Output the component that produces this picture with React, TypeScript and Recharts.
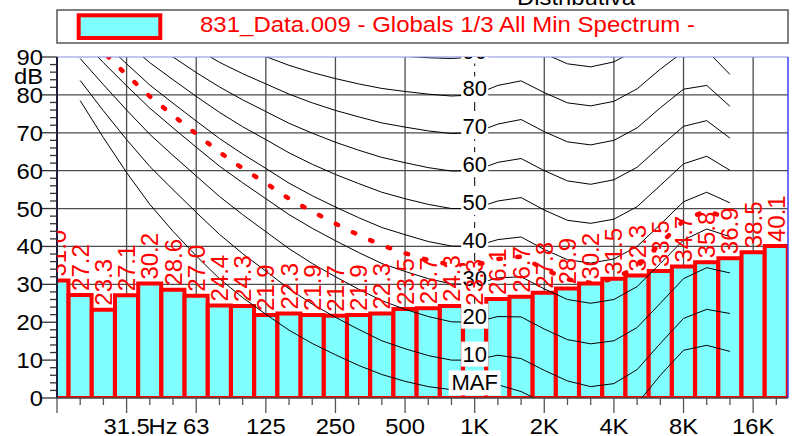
import {
  Bar,
  CartesianGrid,
  ComposedChart,
  Customized,
  LabelList,
  Legend,
  Line,
  ReferenceLine,
  XAxis,
  YAxis,
} from "recharts";

const FONT = "'Liberation Sans', Arial, Helvetica, sans-serif";
const legendLabel = "831_Data.009 - Globals 1/3 All Min Spectrum -";

// 1/3 octave bands 16 Hz .. 20 kHz (centre frequencies on the log axis)
const bandNames = [
  "16", "20", "25", "31.5", "40", "50", "63", "80", "100", "125", "160",
  "200", "250", "315", "400", "500", "630", "800", "1K", "1.25K", "1.6K",
  "2K", "2.5K", "3.15K", "4K", "5K", "6.3K", "8K", "10K", "12.5K", "16K", "20K",
];
const bandCentres = [
  15.85, 19.95, 25.12, 31.62, 39.81, 50.12, 63.1, 79.43, 100, 125.9, 158.5,
  199.5, 251.2, 316.2, 398.1, 501.2, 631, 794.3, 1000, 1259, 1585,
  1995, 2512, 3162, 3981, 5012, 6310, 7943, 10000, 12590, 15850, 19950,
];
const minSpectrum = [
  31.0, 27.2, 23.3, 27.1, 30.2, 28.6, 27.0, 24.4, 24.3, 21.9, 22.3,
  21.9, 21.7, 21.9, 22.3, 23.5, 23.7, 24.3, 23.3, 26.1, 26.7,
  27.8, 28.9, 30.2, 31.5, 32.3, 33.5, 34.7, 35.8, 36.9, 38.5, 40.1,
];
const xTickLabels = [
  "", "", "", "31.5", "", "", "63", "", "", "125", "", "", "250", "", "", "500",
  "", "", "1K", "", "", "2K", "", "", "4K", "", "", "8K", "", "", "16K", "",
];
const yTicks = [
  0, 2, 4, 6, 8, 10, 12, 14, 16, 18, 20, 22, 24, 26, 28, 30, 32, 34, 36, 38, 40,
  42, 44, 46, 48, 50, 52, 54, 56, 58, 60, 62, 64, 66, 68, 70, 72, 74, 76, 78, 80,
  82, 84, 86, 88, 90,
];
const gridLevels = [10, 20, 30, 40, 50, 60, 70, 80];
const gridFreqs = [31.62, 63.1, 125.9, 251.2, 501.2, 1995, 3981, 7943, 15850];

// equal loudness contours, 20 Hz .. 12.5 kHz
const contourFreqs = bandCentres.slice(1, 30);
const maf = [78.5, 68.7, 59.5, 51.1, 44.0, 37.5, 31.5, 26.5, 22.1, 17.9, 14.4, 11.4, 8.6, 6.2, 4.4, 3.0, 2.2, 2.4, 3.5, 1.7, -1.3, -4.2, -6.0, -5.4, -1.5, 6.0, 12.6, 13.9, 12.3];
const phon10 = [83.8, 75.8, 68.2, 61.1, 55.0, 49.0, 43.2, 38.1, 33.5, 28.8, 24.8, 21.3, 18.1, 15.1, 13.0, 11.2, 10.0, 10.0, 11.3, 10.4, 7.3, 4.5, 3.0, 3.8, 7.5, 14.4, 21.0, 23.4, 22.3];
const phon20 = [89.6, 82.7, 76.0, 69.6, 64.0, 58.6, 53.2, 48.4, 43.9, 39.4, 35.5, 32.0, 28.7, 25.7, 23.4, 21.5, 20.1, 20.0, 21.5, 21.4, 18.2, 15.4, 14.3, 15.1, 18.6, 25.0, 31.5, 34.4, 33.0];
const phon30 = [94.9, 88.5, 82.4, 76.5, 71.3, 66.2, 61.2, 56.8, 52.6, 48.4, 44.8, 41.5, 38.4, 35.5, 33.4, 31.5, 30.1, 30.0, 31.7, 32.0, 28.8, 26.0, 25.0, 26.0, 29.4, 35.5, 41.7, 44.6, 42.6];
const phon40 = [99.9, 93.9, 88.2, 82.6, 77.8, 73.1, 68.5, 64.4, 60.6, 56.7, 53.4, 50.4, 47.6, 45.0, 43.1, 41.3, 40.1, 40.0, 41.8, 42.5, 39.2, 36.5, 35.6, 36.7, 40.0, 45.8, 51.8, 54.3, 51.5];
const phon50 = [104.7, 99.2, 93.7, 88.5, 84.0, 79.6, 75.4, 71.6, 68.2, 64.7, 61.7, 59.0, 56.6, 54.3, 52.6, 51.1, 50.0, 50.0, 52.0, 52.9, 49.6, 46.9, 46.1, 47.2, 50.5, 56.1, 61.8, 63.8, 60.1];
const phon60 = [109.5, 104.2, 99.1, 94.2, 90.0, 85.9, 82.1, 78.7, 75.6, 72.5, 69.9, 67.5, 65.4, 63.5, 62.1, 60.8, 59.9, 60.0, 62.2, 63.2, 60.0, 57.3, 56.4, 57.6, 60.9, 66.4, 71.7, 73.2, 68.6];
const phon70 = [114.3, 109.3, 104.4, 99.8, 95.9, 92.2, 88.6, 85.6, 82.9, 80.2, 77.9, 75.9, 74.2, 72.6, 71.5, 70.5, 69.8, 70.0, 72.3, 73.5, 70.3, 67.6, 66.8, 68.0, 71.3, 76.6, 81.5, 82.5, 77.0];
const phon80 = [119.0, 114.2, 109.7, 105.3, 101.7, 98.4, 95.2, 92.5, 90.1, 87.8, 85.9, 84.3, 82.9, 81.7, 80.9, 80.2, 79.7, 80.0, 82.5, 83.7, 80.6, 77.9, 77.1, 78.3, 81.6, 86.8, 91.4, 91.7, 85.4];
const phon90 = [123.7, 119.2, 114.9, 110.9, 107.6, 104.5, 101.7, 99.3, 97.3, 95.4, 93.9, 92.7, 91.6, 90.8, 90.2, 89.8, 89.6, 90.0, 92.7, 94.0, 90.9, 88.2, 87.4, 88.7, 92.0, 97.0, 101.3, 101.0, 93.8];
// dotted red reference contour
const phon35 = [97.4, 91.3, 85.3, 79.6, 74.6, 69.7, 64.9, 60.6, 56.7, 52.6, 49.2, 46.0, 43.0, 40.3, 38.2, 36.4, 35.1, 35.0, 36.7, 37.3, 34.0, 31.3, 30.4, 31.4, 34.7, 40.7, 46.8, 49.5, 47.1];

const contourNames = ["MAF", "10", "20", "30", "40", "50", "60", "70", "80", "90"];
const contourValues = [maf, phon10, phon20, phon30, phon40, phon50, phon60, phon70, phon80, phon90];

const bars = bandCentres.map((f, i) => ({ f, band: bandNames[i], v: minSpectrum[i] }));
const toLine = (vals: number[]) => contourFreqs.map((f, i) => ({ f, y: vals[i] }));

function Txt({ x, y, anchor = "start", size = 22, fill = "#000", sx = 1.08, children }: any) {
  return (
    <text
      transform={`translate(${x},${y}) scale(${sx},1)`}
      textAnchor={anchor}
      fontSize={size}
      fontFamily={FONT}
      fill={fill}
    >
      {children}
    </text>
  );
}

function FreqTick({ x, y, payload }: any) {
  const i = bandCentres.indexOf(payload.value);
  const label = xTickLabels[i] || "";
  const major = i % 3 === 0;
  return (
    <g>
      <line x1={x} x2={x} y1={y} y2={y + (major ? 15 : 7)} stroke="#555" strokeWidth={1.3} />
      {label && <Txt x={x} y={y + 36} anchor="middle">{label}</Txt>}
      {label === "31.5" && <Txt x={x + 22} y={y + 36}>Hz</Txt>}
    </g>
  );
}

function LevelTick({ x, y, payload }: any) {
  const v = payload.value;
  const major = v % 10 === 0;
  return (
    <g>
      <line x1={x - (major ? 15 : 7)} x2={x} y1={y} y2={y} stroke="#333" strokeWidth={1.3} />
      {major && <Txt x={x - 14} y={y + 8} anchor="end">{v}</Txt>}
    </g>
  );
}

function BarValue({ x, y, width, value }: any) {
  const cx = x + width / 2;
  return (
    <g clipPath="url(#plot-clip)">
      <text
        transform={`translate(${cx},${y - 4}) rotate(-90)`}
        dy="0.36em"
        fontSize={24}
        fontFamily={FONT}
        fill="#ff0000"
      >
        {Number(value).toFixed(1)}
      </text>
    </g>
  );
}

const contourDot = (label: string) => (p: any) => {
  const { cx, cy, payload, index } = p;
  if (!payload || payload.f !== 1000 || cx == null || cy == null) {
    return <g key={`d-${label}-${index}`} />;
  }
  const w = label === "MAF" ? 52 : 27;
  const base = cy + 1.5;
  return (
    <g key={`d-${label}-${index}`} clipPath="url(#plot-clip)">
      <rect x={cx - w / 2} y={base - 20} width={w} height={25} fill="#fff" />
      <text x={cx} y={base} textAnchor="middle" fontSize={22} fontFamily={FONT} fill="#000">
        {label}
      </text>
    </g>
  );
};

function LegendBox(props: any) {
  const label = props.payload?.[0]?.value ?? legendLabel;
  return (
    <svg width={797} height={50} style={{ display: "block" }}>
      <rect x={57} y={10} width={731} height={33} fill="#fff" stroke="#555" strokeWidth={1.5} />
      <rect x={78.7} y={15.3} width={81.6} height={22.7} fill="#80ffff" stroke="#ff0000" strokeWidth={4} />
      <text
        x={200}
        y={32}
        fontSize={22}
        fontFamily={FONT}
        fill="#ff0000"
        textLength={495}
        lengthAdjust="spacingAndGlyphs"
      >
        {label}
      </text>
    </svg>
  );
}

function Extras() {
  return (
    <g>
      <defs>
        <clipPath id="plot-clip">
          <rect x={57} y={57} width={731} height={341} />
        </clipPath>
      </defs>
      <text
        x={576}
        y={5}
        textAnchor="middle"
        fontSize={22}
        fontFamily={FONT}
        fill="#000"
        textLength={118}
        lengthAdjust="spacingAndGlyphs"
      >
        Distributiva
      </text>
      <Txt x={43} y={84} anchor="end">dB</Txt>
    </g>
  );
}

export default function App() {
  return (
    <div style={{ position: "absolute", left: 0, top: 0, width: 797, height: 436, background: "#fff" }}>
      <ComposedChart
        width={797}
        height={436}
        data={bars}
        margin={{ top: 57, right: 9, bottom: 0, left: 0 }}
        barCategoryGap={0}
        barGap={0}
      >
        <CartesianGrid
          xAxisId="f"
          yAxisId="db"
          verticalValues={gridFreqs}
          horizontalValues={gridLevels}
          stroke="#4d4d4d"
          strokeWidth={1.3}
        />
        <CartesianGrid
          xAxisId="f"
          yAxisId="db"
          verticalValues={[1000]}
          horizontal={false}
          stroke="#000"
          strokeDasharray="9 6"
        />
        <XAxis
          xAxisId="f"
          dataKey="f"
          type="number"
          scale="log"
          domain={[15.85, 22400]}
          allowDataOverflow
          ticks={bandCentres}
          interval={0}
          tickLine={false}
          tickSize={0}
          tickMargin={0}
          tick={(p: any) => <FreqTick {...p} />}
          axisLine={{ stroke: "#444", strokeWidth: 1.5 }}
          height={38}
        />
        <YAxis
          yAxisId="db"
          type="number"
          domain={[0, 90]}
          allowDataOverflow
          ticks={yTicks}
          interval={0}
          tickLine={false}
          tickSize={0}
          tickMargin={0}
          tick={(p: any) => <LevelTick {...p} />}
          axisLine={{ stroke: "#1c1c3c", strokeWidth: 2 }}
          width={57}
        />
        <Legend
          layout="horizontal"
          verticalAlign="middle"
          align="center"
          content={LegendBox}
          wrapperStyle={{ position: "absolute", left: 0, top: 0, width: 797, height: 50, margin: 0, padding: 0 }}
        />
        <Bar
          xAxisId="f"
          yAxisId="db"
          dataKey="v"
          name={legendLabel}
          fill="#80ffff"
          stroke="#ff0000"
          strokeWidth={4}
          isAnimationActive={false}
        >
          <LabelList dataKey="v" content={BarValue} />
        </Bar>
        <Line
          xAxisId="f"
          yAxisId="db"
          data={toLine(phon35)}
          dataKey="y"
          type="linear"
          stroke="#ff0000"
          strokeWidth={4.5}
          strokeDasharray="2.5 16.5"
          strokeLinecap="round"
          dot={false}
          activeDot={false}
          legendType="none"
          isAnimationActive={false}
        />
        {contourValues.map((vals, k) => (
          <Line
            key={contourNames[k]}
            xAxisId="f"
            yAxisId="db"
            data={toLine(vals)}
            dataKey="y"
            type="linear"
            stroke="#000"
            strokeWidth={1}
            dot={contourDot(contourNames[k])}
            activeDot={false}
            legendType="none"
            isAnimationActive={false}
          />
        ))}
        <ReferenceLine xAxisId="f" yAxisId="db" y={90} stroke="#8a8ae6" strokeWidth={1.2} />
        <ReferenceLine xAxisId="f" yAxisId="db" x={22400} stroke="#3c3cff" strokeWidth={1.5} />
        <Customized component={Extras} />
      </ComposedChart>
    </div>
  );
}
